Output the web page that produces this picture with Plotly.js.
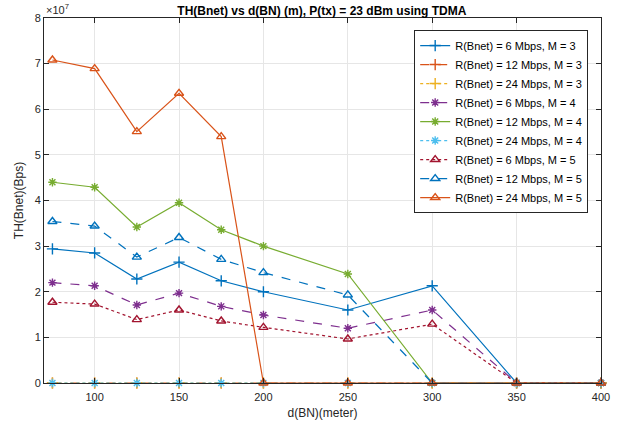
<!DOCTYPE html>
<html><head><meta charset="utf-8">
<script src="https://cdn.plot.ly/plotly-3.0.1.min.js"></script>
<style>html,body{margin:0;padding:0;background:#fff}#c{width:625px;height:425px}</style>
</head><body><div id="c"></div>
<script>
const distances = [75, 100, 125, 150, 175, 200, 250, 300, 350, 400];
const r6m3  = [2.94e7, 2.85e7, 2.28e7, 2.65e7, 2.24e7, 2.0e7, 1.6e7, 2.13e7, 0, 0];
const r12m3 = [0, 0, 0, 0, 0, 0, 0, 0, 0, 0];
const r24m3 = [0, 0, 0, 0, 0, 0, 0, 0, 0, 0];
const r6m4  = [2.20e7, 2.13e7, 1.71e7, 1.97e7, 1.68e7, 1.49e7, 1.20e7, 1.60e7, 0, 0];
const r12m4 = [4.40e7, 4.29e7, 3.42e7, 3.95e7, 3.36e7, 3.0e7, 2.39e7, 0, 0, 0];
const r24m4 = [0, 0, 0, 0, 0, 0, 0, 0, 0, 0];
const r6m5  = [1.77e7, 1.73e7, 1.39e7, 1.60e7, 1.36e7, 1.22e7, 0.965e7, 1.29e7, 0, 0];
const r12m5 = [3.54e7, 3.44e7, 2.76e7, 3.19e7, 2.71e7, 2.42e7, 1.93e7, 0, 0, 0];
const r24m5 = [7.08e7, 6.89e7, 5.51e7, 6.35e7, 5.40e7, 0, 0, 0, 0, 0];
const seriesNames = [
  'R(Bnet) = 6 Mbps, M = 3', 'R(Bnet) = 12 Mbps, M = 3', 'R(Bnet) = 24 Mbps, M = 3',
  'R(Bnet) = 6 Mbps, M = 4', 'R(Bnet) = 12 Mbps, M = 4', 'R(Bnet) = 24 Mbps, M = 4',
  'R(Bnet) = 6 Mbps, M = 5', 'R(Bnet) = 12 Mbps, M = 5', 'R(Bnet) = 24 Mbps, M = 5'];
const yTickVals = [0, 1e7, 2e7, 3e7, 4e7, 5e7, 6e7, 7e7, 8e7];
const yTickText = ['0','1','2','3','4','5','6','7','8'];
const xTickVals = [100, 150, 200, 250, 300, 350, 400];

const series = [r6m3, r12m3, r24m3, r6m4, r12m4, r24m4, r6m5, r12m5, r24m5];
const colors = ['#0072BD','#D95319','#EDB120','#7E2F8E','#77AC30','#4DBEEE','#A2142F','#0072BD','#D95319'];
const dashes = ['solid','dash','dot','dash','solid','dot','dot','dash','solid'];
const symbols = ['cross-thin-open','cross-thin-open','cross-thin-open','asterisk-open','asterisk-open','asterisk-open','triangle-up-open','triangle-up-open','triangle-up-open'];
const sizes = [8,8,8,7,7,7,8,8,8];

const traces = series.map((ys, i) => ({
  x: distances, y: ys, name: seriesNames[i], type: 'scatter', mode: 'lines+markers',
  cliponaxis: false,
  line: {color: colors[i], dash: dashes[i], width: 1.2},
  marker: {symbol: symbols[i], size: sizes[i], color: colors[i], line: {color: colors[i], width: 1.4}}
}));

const font = {family: 'Liberation Sans, Arial, sans-serif', size: 11, color: '#262626'};
const layout = {
  width: 625, height: 425,
  margin: {l: 44, r: 24, t: 18, b: 42},
  paper_bgcolor: '#fff', plot_bgcolor: '#fff',
  font: font,
  showlegend: true,
  title: {text: '<b>TH(Bnet) vs d(BN) (m), P(tx) = 23 dBm using TDMA</b>', x: 0.515, xanchor: 'center', y: 0.985, yanchor: 'top', font: {family: font.family, size: 12, color: '#000'}},
  xaxis: {
    range: [70, 400], tickvals: xTickVals, ticks: 'inside', ticklen: 5, tickcolor: '#262626',
    showline: true, linecolor: '#262626', linewidth: 1, mirror: 'ticks',
    showgrid: true, gridcolor: '#e6e6e6', zeroline: false, ticklabelstandoff: 4,
    title: {text: 'd(BN)(meter)', standoff: 6, font: {family: font.family, size: 12, color: '#262626'}}
  },
  yaxis: {
    range: [0, 8e7], tickvals: yTickVals, ticktext: yTickText, ticks: 'inside', ticklen: 5, tickcolor: '#262626',
    showline: true, linecolor: '#262626', linewidth: 1, mirror: 'ticks',
    showgrid: true, gridcolor: '#e6e6e6', zeroline: false,
    title: {text: 'TH(Bnet)(Bps)', standoff: 8, font: {family: font.family, size: 12, color: '#262626'}}
  },
  legend: {
    x: 0.977, xanchor: 'right', y: 0.967, yanchor: 'top',
    bgcolor: '#fff', bordercolor: '#262626', borderwidth: 1,
    font: {family: font.family, size: 11, color: '#000'},
    tracegroupgap: 0, itemwidth: 30
  },
  annotations: [{
    xref: 'paper', yref: 'paper', x: 0, y: 1, xanchor: 'left', yanchor: 'bottom',
    text: '×10<sup>7</sup>', showarrow: false, font: {family: font.family, size: 11, color: '#262626'}
  }]
};
Plotly.newPlot('c', traces, layout, {displayModeBar: false, staticPlot: true});
</script></body></html>
